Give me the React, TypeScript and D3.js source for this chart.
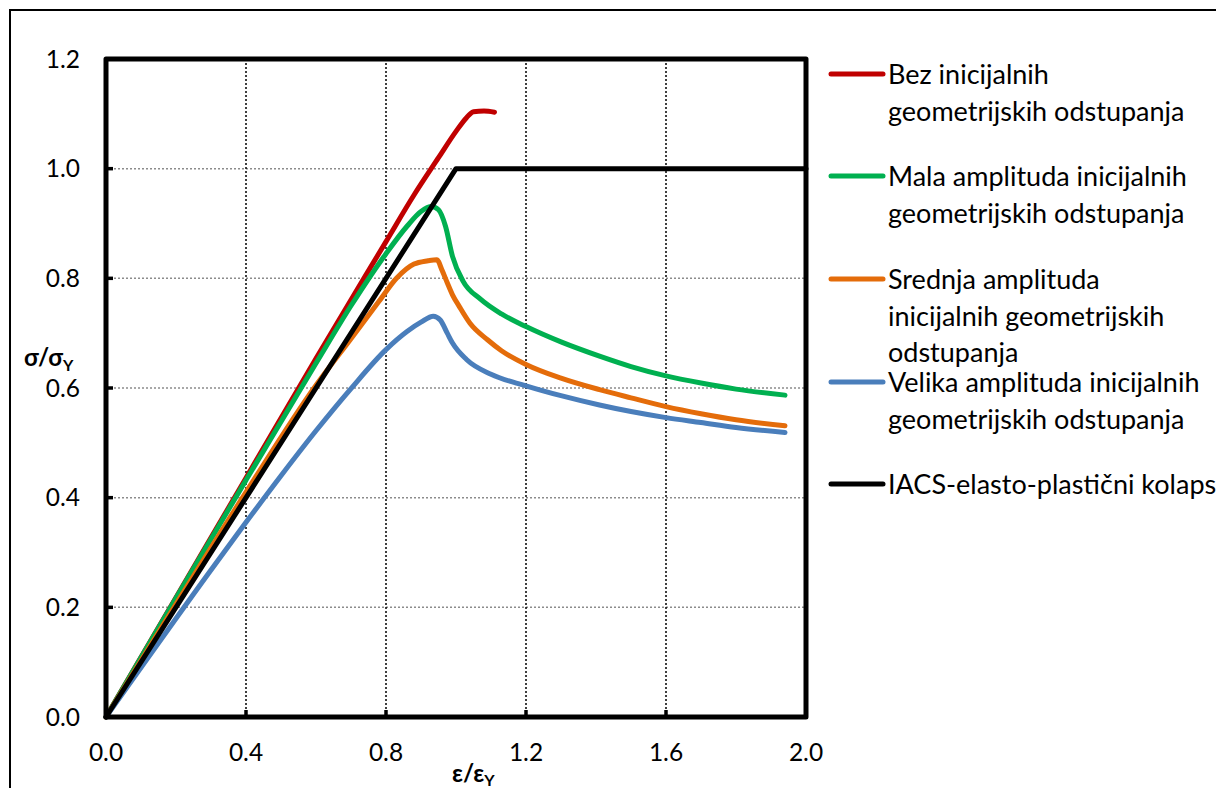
import React from "react";
import * as d3 from "d3";

const xTicks = [0, 0.4, 0.8, 1.2, 1.6, 2.0];
const yTicks = [0, 0.2, 0.4, 0.6, 0.8, 1.0, 1.2];

const redX = [0, 0.2, 0.4, 0.6, 0.8, 0.88, 0.95, 1.0, 1.03, 1.05, 1.08, 1.11];
const redY = [0, 0.218, 0.436, 0.654, 0.867, 0.952, 1.02, 1.068, 1.093, 1.104, 1.105, 1.103];

const greenX = [0, 0.2, 0.4, 0.6, 0.7, 0.8, 0.86, 0.9, 0.93, 0.95, 0.97, 0.99, 1.02, 1.07, 1.13, 1.2, 1.3, 1.41, 1.5, 1.6, 1.7, 1.8, 1.94];
const greenY = [0, 0.217, 0.432, 0.645, 0.75, 0.845, 0.895, 0.922, 0.931, 0.925, 0.895, 0.84, 0.795, 0.762, 0.735, 0.712, 0.684, 0.658, 0.639, 0.622, 0.609, 0.598, 0.587];

const orangeX = [0, 0.2, 0.4, 0.6, 0.7, 0.78, 0.83, 0.88, 0.92, 0.945, 0.96, 0.975, 0.99, 1.01, 1.04, 1.09, 1.13, 1.2, 1.3, 1.41, 1.5, 1.6, 1.7, 1.8, 1.94];
const orangeY = [0, 0.206, 0.41, 0.605, 0.69, 0.758, 0.8, 0.826, 0.832, 0.834, 0.815, 0.792, 0.77, 0.748, 0.718, 0.688, 0.668, 0.643, 0.618, 0.597, 0.582, 0.566, 0.553, 0.542, 0.531];

const blueX = [0, 0.3, 0.4, 0.5, 0.6, 0.7, 0.8, 0.86, 0.9, 0.935, 0.955, 0.975, 0.99, 1.03, 1.1, 1.2, 1.3, 1.41, 1.5, 1.6, 1.7, 1.8, 1.94];
const blueY = [0, 0.268, 0.355, 0.44, 0.522, 0.599, 0.67, 0.703, 0.72, 0.731, 0.724, 0.7, 0.682, 0.652, 0.625, 0.604, 0.586, 0.569, 0.557, 0.546, 0.537, 0.528, 0.519];

const blackX = [0, 1.0, 2.0];
const blackY = [0, 1.0, 1.0];

const seriesNames = [
  ["Bez inicijalnih", "geometrijskih odstupanja"],
  ["Mala amplituda inicijalnih", "geometrijskih odstupanja"],
  ["Srednja amplituda", "inicijalnih geometrijskih", "odstupanja"],
  ["Velika amplituda inicijalnih", "geometrijskih odstupanja"],
  ["IACS-elasto-plastični kolaps"],
];
const seriesColors = ["#C00000", "#00B050", "#E46C0A", "#4A7EBB", "#000000"];

export default function App() {
  const W = 1216, H = 788;
  const left = 106, right = 806, top = 59, bottom = 717;
  const x = d3.scaleLinear().domain([0, 2]).range([left, right]);
  const y = d3.scaleLinear().domain([0, 1.2]).range([bottom, top]);

  const series = [
    { xs: redX, ys: redY, curve: d3.curveMonotoneX },
    { xs: greenX, ys: greenY, curve: d3.curveMonotoneX },
    { xs: orangeX, ys: orangeY, curve: d3.curveMonotoneX },
    { xs: blueX, ys: blueY, curve: d3.curveMonotoneX },
    { xs: blackX, ys: blackY, curve: d3.curveLinear },
  ];

  const font = "Lato, Carlito, Calibri, sans-serif";
  const legendY = [74, 176, 279, 382, 484];
  const lineH = 36.8;

  return (
    <svg width={W} height={H} style={{ position: "absolute", left: 0, top: 0, background: "#fff" }} fontFamily={font}>
      <rect x={10} y={10} width={W + 20} height={H + 20} fill="none" stroke="#000" strokeWidth={2} />
      {yTicks.filter((t) => t > 0 && t < 1.2).map((t) => (
        <line key={"gy" + t} x1={left} x2={right} y1={y(t)} y2={y(t)} stroke="#8c8c8c" strokeWidth={1.5} strokeDasharray="2,2" />
      ))}
      {xTicks.filter((t) => t > 0 && t < 2).map((t) => (
        <line key={"gx" + t} x1={x(t)} x2={x(t)} y1={top} y2={bottom} stroke="#000" strokeWidth={1.5} strokeDasharray="2,2" />
      ))}
      {yTicks.map((t) => (
        <line key={"ty" + t} x1={left} x2={left + 7} y1={y(t)} y2={y(t)} stroke="#000" strokeWidth={3.5} />
      ))}
      {xTicks.map((t) => (
        <line key={"tx" + t} x1={x(t)} x2={x(t)} y1={bottom} y2={bottom - 7} stroke="#000" strokeWidth={3.5} />
      ))}
      {series.map((s, i) => {
        const pts: [number, number][] = s.xs.map((v, k) => [v, s.ys[k]]);
        const path = d3.line<[number, number]>().x((d) => x(d[0])).y((d) => y(d[1])).curve(s.curve)(pts) || "";
        return <path key={"s" + i} d={path} fill="none" stroke={seriesColors[i]} strokeWidth={5} strokeLinejoin="round" strokeLinecap="round" />;
      })}
      <rect x={left} y={top} width={right - left} height={bottom - top} fill="none" stroke="#000" strokeWidth={5} strokeLinejoin="round" />
      {yTicks.map((t) => (
        <text key={"ly" + t} x={80} y={y(t)} dy="0.36em" textAnchor="end" fontSize={24.5} fill="#000">{t.toFixed(1)}</text>
      ))}
      {xTicks.map((t) => (
        <text key={"lx" + t} x={x(t)} y={761} textAnchor="middle" fontSize={24.5} fill="#000">{t.toFixed(1)}</text>
      ))}
      <text x={24} y={366} fontSize={24} fontWeight="bold" fill="#000">
        σ/σ<tspan fontSize={16} dy={5}>Y</tspan>
      </text>
      <text x={452} y={782} fontSize={24} fontWeight="bold" fill="#000">
        ε/ε<tspan fontSize={16} dy={4}>Y</tspan>
      </text>
      {seriesNames.map((lines, i) => (
        <g key={"lg" + i}>
          <line x1={831} x2={883} y1={legendY[i]} y2={legendY[i]} stroke={seriesColors[i]} strokeWidth={5} strokeLinecap="round" />
          {lines.map((ln, j) => (
            <text key={j} x={888} y={legendY[i] + j * lineH} dy="0.36em" fontSize={27} fill="#000">{ln}</text>
          ))}
        </g>
      ))}
    </svg>
  );
}
